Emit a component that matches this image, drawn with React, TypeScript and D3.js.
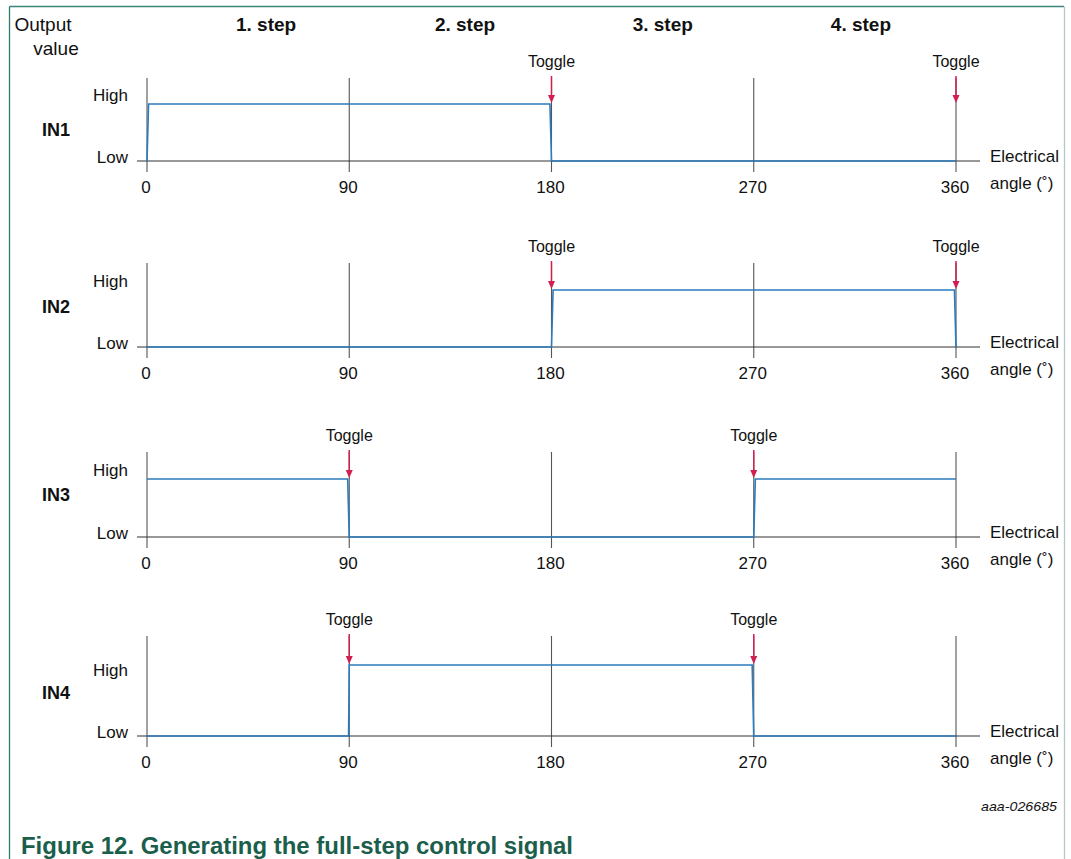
import React from "react";
import * as d3 from "d3";

const tickAngles = [0, 90, 180, 270, 360];
const stepLabels = ["1. step", "2. step", "3. step", "4. step"];
const stepAngles = [53, 141.5, 229.5, 317.7];
const signalNames = ["IN1", "IN2", "IN3", "IN4"];
const in1: [number, number][] = [[0, 0], [0.7, 1], [179.3, 1], [180, 0], [360, 0]];
const in2: [number, number][] = [[0, 0], [180, 0], [180.7, 1], [359.3, 1], [360, 0]];
const in3: [number, number][] = [[0, 1], [89.3, 1], [90, 0], [270, 0], [270.7, 1], [360, 1]];
const in4: [number, number][] = [[0, 0], [89.7, 0], [90, 1], [269.3, 1], [270, 0], [360, 0]];
const signals = [in1, in2, in3, in4];
const toggles = [[180, 360], [180, 360], [90, 270], [90, 270]];

const layout = [
  { top: 78, high: 104, low: 161, highLabel: 95, inLabel: 129 },
  { top: 263, high: 290, low: 347, highLabel: 281, inLabel: 306 },
  { top: 452, high: 479, low: 537, highLabel: 470, inLabel: 494 },
  { top: 636, high: 665, low: 736, highLabel: 670, inLabel: 692 },
];

const FONT = "Arial, 'Liberation Sans', Helvetica, sans-serif";
const BLUE = "#2b7bbd";
const RED = "#d0204f";

export default function App() {
  const W = 1071, H = 859;
  const x = d3.scaleLinear().domain([0, 360]).range([147, 956]);

  return (
    <svg width={W} height={H} style={{ position: "absolute", left: 0, top: 0 }} fontFamily={FONT}>
      <rect width={W} height={H} fill="#fff" />
      <line x1={9.5} y1={6.5} x2={1064} y2={6.5} stroke="#3a8577" strokeWidth={1.3} />
      <line x1={9.5} y1={6.5} x2={9.5} y2={H} stroke="#2f7a6b" strokeWidth={1.3} />
      <line x1={1064.5} y1={6.5} x2={1064.5} y2={H} stroke="#b9c6c4" strokeWidth={1.3} />

      <text x={43} y={31} fontSize={19} textAnchor="middle" fill="#111">Output</text>
      <text x={56} y={55} fontSize={19} textAnchor="middle" fill="#111">value</text>
      {stepLabels.map((s, i) => (
        <text key={s} x={x(stepAngles[i])} y={31} fontSize={19} fontWeight="bold" textAnchor="middle" fill="#111">{s}</text>
      ))}

      {layout.map((p, i) => {
        const y = d3.scaleLinear().domain([0, 1]).range([p.low, p.high]);
        const line = d3.line<[number, number]>().x((d) => x(d[0])).y((d) => y(d[1]));
        return (
          <g key={i}>
            {tickAngles.map((a) => (
              <line key={a} x1={x(a)} x2={x(a)} y1={p.top} y2={p.low + 11} stroke="#555" strokeWidth={1.1} />
            ))}
            <line x1={137} x2={980} y1={p.low} y2={p.low} stroke="#333" strokeWidth={1.2} />
            <path d={line(signals[i]) || ""} fill="none" stroke={BLUE} strokeWidth={1.6} />
            {tickAngles.map((a) => (
              <text key={a} x={x(a) - 1} y={p.low + 32} fontSize={17} textAnchor="middle" fill="#111">{a}</text>
            ))}
            <text x={128} y={p.highLabel + 6} fontSize={17} textAnchor="end" fill="#111">High</text>
            <text x={128} y={p.low + 2} fontSize={17} textAnchor="end" fill="#111">Low</text>
            <text x={70} y={p.inLabel + 7} fontSize={18} fontWeight="bold" textAnchor="end" fill="#111">{signalNames[i]}</text>
            <text x={990} y={p.low + 1} fontSize={17} fill="#111">Electrical</text>
            <text x={990} y={p.low + 28} fontSize={17} fill="#111">angle (˚)</text>
            {toggles[i].map((a) => (
              <g key={a}>
                <text x={x(a)} y={p.top - 11} fontSize={16} textAnchor="middle" fill="#111">Toggle</text>
                <line x1={x(a)} x2={x(a)} y1={p.top - 2} y2={p.high - 8} stroke={RED} strokeWidth={1.5} />
                <path d={`M${x(a) - 3.5},${p.high - 9} L${x(a) + 3.5},${p.high - 9} L${x(a)},${p.high - 1} Z`} fill={RED} />
              </g>
            ))}
          </g>
        );
      })}

      <text x={1057} y={811} fontSize={13} fontStyle="italic" textAnchor="end" fill="#111" textLength={76} lengthAdjust="spacingAndGlyphs">aaa-026685</text>
      <text x={21} y={854} fontSize={23} fontWeight="bold" fill="#1b5e4b" textLength={552} lengthAdjust="spacingAndGlyphs">Figure 12. Generating the full-step control signal</text>
    </svg>
  );
}
